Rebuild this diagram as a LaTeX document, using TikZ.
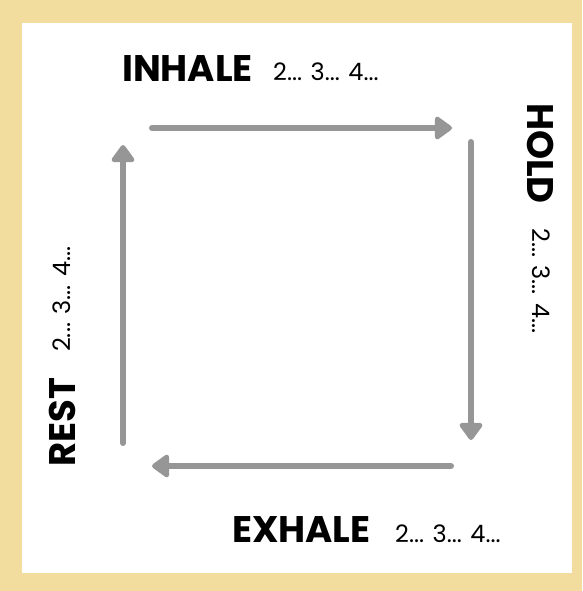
\documentclass[tikz,border=0pt]{standalone}
\usepackage{fontspec}
\setmainfont{Poppins}
\usepackage{tikz}
\usetikzlibrary{positioning,arrows.meta}
\definecolor{FrameGold}{RGB}{242,221,158}
\definecolor{ArrowGray}{RGB}{150,150,150}

\begin{document}
\begin{tikzpicture}[
  x=1pt, y=-1pt,
  phase/.style={
    inner sep=0pt, anchor=base west, text=black,
    font=\fontsize{37}{37}\selectfont\bfseries
  },
  count/.style={
    inner sep=0pt, anchor=base west, text=black,
    font=\fontsize{24}{24}\selectfont
  },
  arr/.style={
    draw=ArrowGray, line width=6pt, line cap=round,
    -{Triangle[width=26pt,length=19pt,round]}
  }
]

%% Frame
\fill[FrameGold] (0,0) rectangle (582,591);
\fill[white] (22,23) rectangle (572,573);
\useasboundingbox (0,0) rectangle (582,591);

%% Labels
\node[phase] (inhale) at (122,82) {INHALE};
\node[count] (inhalec) at (273,81) {2... 3... 4...};
\node[phase, rotate=-90] (hold) at (527,103) {HOLD};
\node[count, rotate=-90] (holdc) at (532,228) {2... 3... 4...};
\node[phase] (exhale) at (232,542) {EXHALE};
\node[count] (exhalec) at (395,542) {2... 3... 4...};
\node[phase, rotate=90] (rest) at (75,467) {REST};
\node[count, rotate=90] (restc) at (70,352) {2... 3... 4...};

%% Arrow ends
\coordinate (inS) at (152,128);
\coordinate (inE) at (452,128);
\coordinate (hoS) at (471,142);
\coordinate (hoE) at (471,440);
\coordinate (exS) at (451,466);
\coordinate (exE) at (152,466);
\coordinate (reS) at (123,443);
\coordinate (reE) at (123,145);

%% Arrows
\draw[arr] (inS) -- (inE);
\draw[arr] (hoS) -- (hoE);
\draw[arr] (exS) -- (exE);
\draw[arr] (reS) -- (reE);

\end{tikzpicture}
\end{document}
